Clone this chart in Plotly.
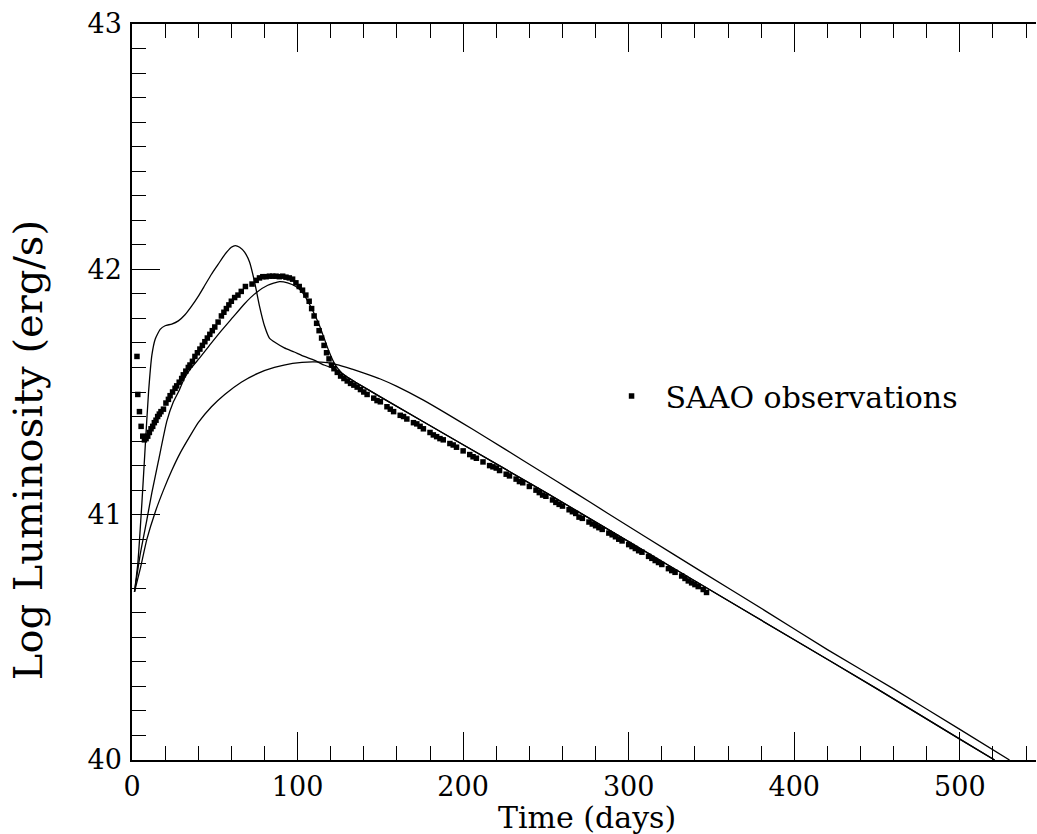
import plotly.graph_objects as go

# ---- data ----
# SAAO observations (days, log L)
obs_t = [3.0, 3.5, 4.5, 5.5, 6.5, 7.5, 8.5, 9.5, 10.5, 11.5, 12.5, 13.5, 14.5, 15.5, 16.5,
         17.5, 19, 20.5, 22, 23, 24.5, 26, 27, 28.5, 30, 31, 32.5, 34, 35, 36.5, 38, 39.5,
         41, 42.5, 44, 45.5, 47, 48.5, 50, 52, 54, 55.5, 57, 58.5, 60, 62, 64, 66, 68.5,
         72.5, 75, 77, 79, 81, 83, 85, 87, 89, 91, 93, 95, 97, 99, 101, 103, 105, 107,
         108.5, 110, 111.5, 113, 114.5, 116, 117.5, 119, 120.5, 122, 124, 126, 128, 130,
         132, 134, 136, 138, 140, 142, 146, 148, 150, 154, 156, 158, 162, 164, 166, 170,
         172, 174, 176, 180, 182, 184, 186, 188, 192, 194, 196, 200, 204, 206, 208, 212,
         216, 218, 220, 222, 226, 228, 232, 234, 236, 240, 244, 246, 248, 250, 254, 256,
         258, 260, 264, 266, 268, 270, 272, 276, 278, 280, 282, 284, 288, 290, 292, 294,
         296, 300, 302, 304, 306, 308, 312, 314, 316, 318, 320, 324, 326, 328, 332, 334,
         336, 338, 340, 342, 345, 347]
obs_L = [41.645, 41.49, 41.42, 41.36, 41.32, 41.305, 41.31, 41.32, 41.335, 41.35, 41.36,
         41.375, 41.385, 41.40, 41.41, 41.42, 41.43, 41.455, 41.47, 41.485, 41.50, 41.515,
         41.525, 41.54, 41.555, 41.57, 41.585, 41.60, 41.61, 41.625, 41.645, 41.66, 41.675,
         41.69, 41.705, 41.72, 41.735, 41.75, 41.765, 41.785, 41.81, 41.825, 41.84, 41.855,
         41.87, 41.885, 41.895, 41.91, 41.93, 41.94, 41.955, 41.965, 41.97, 41.97, 41.972,
         41.972, 41.972, 41.97, 41.972, 41.968, 41.965, 41.96, 41.945, 41.93, 41.915,
         41.895, 41.87, 41.84, 41.81, 41.78, 41.75, 41.72, 41.69, 41.66, 41.635, 41.61,
         41.595, 41.58, 41.565, 41.555, 41.545, 41.535, 41.528, 41.52, 41.51, 41.50, 41.49,
         41.475, 41.465, 41.46, 41.44, 41.43, 41.42, 41.405, 41.40, 41.39, 41.375, 41.37,
         41.36, 41.35, 41.335, 41.325, 41.318, 41.31, 41.305, 41.29, 41.284, 41.275, 41.26,
         41.245, 41.236, 41.23, 41.215, 41.20, 41.195, 41.19, 41.18, 41.165, 41.158, 41.145,
         41.135, 41.13, 41.115, 41.10, 41.09, 41.08, 41.075, 41.06, 41.05, 41.042, 41.035,
         41.02, 41.012, 41.005, 40.99, 40.985, 40.97, 40.962, 40.955, 40.947, 40.94, 40.925,
         40.918, 40.91, 40.90, 40.893, 40.878, 40.87, 40.862, 40.853, 40.847, 40.83, 40.822,
         40.813, 40.805, 40.797, 40.78, 40.772, 40.765, 40.75, 40.74, 40.73, 40.722, 40.715,
         40.707, 40.695, 40.683]

# Model curve A (sharp early peak)
modelA_t = [1.5, 3.5, 6, 8, 10, 12, 14, 17, 20, 24, 28, 32, 36, 40, 44, 48, 52, 56, 60,
            62.4, 65, 68, 71, 74, 77, 80, 83, 87, 92, 98, 104, 110, 116, 122, 128, 135,
            150, 200, 250, 300, 350, 400, 450, 500, 521]
modelA_L = [40.685, 40.80, 41.05, 41.28, 41.50, 41.65, 41.715, 41.755, 41.77, 41.777,
            41.79, 41.815, 41.85, 41.89, 41.935, 41.98, 42.02, 42.06, 42.09, 42.097, 42.09,
            42.07, 42.03, 41.95, 41.85, 41.77, 41.72, 41.70, 41.68, 41.663, 41.645, 41.63,
            41.61, 41.595, 41.57, 41.54, 41.48, 41.285, 41.09, 40.89, 40.69, 40.49, 40.29,
            40.085, 40.0]

# Model curve B (fits the observations)
modelB_t = [1.5, 5, 9, 12, 16, 21, 25, 28, 32, 36, 41, 48, 54, 61, 68, 75, 82, 89, 94,
            99, 103, 107, 110, 113, 116, 119, 122, 125, 129, 135,
            150, 200, 250, 300, 350, 400, 450, 500, 521]
modelB_L = [40.685, 40.84, 40.98, 41.09, 41.22, 41.38, 41.46, 41.50, 41.56, 41.60, 41.64,
            41.70, 41.75, 41.805, 41.86, 41.905, 41.935, 41.95, 41.945, 41.93, 41.905,
            41.86, 41.82, 41.775, 41.72, 41.665, 41.62, 41.59, 41.565, 41.54,
            41.48, 41.285, 41.09, 40.89, 40.69, 40.49, 40.29, 40.085, 40.0]

# Model curve C (broad late peak)
modelC_t = [1.5, 5, 9, 14, 19, 24, 29, 35, 40, 48, 56, 66, 76, 86, 97, 109, 118, 125,
            133, 141, 150, 160, 176, 190, 206, 225, 247, 267, 287, 310, 343, 382, 420,
            460, 500, 530]
modelC_L = [40.685, 40.78, 40.90, 41.01, 41.10, 41.18, 41.25, 41.32, 41.375, 41.44, 41.49,
            41.54, 41.576, 41.60, 41.617, 41.623, 41.62, 41.61, 41.593, 41.575, 41.553,
            41.523, 41.467, 41.412, 41.347, 41.268, 41.176, 41.092, 41.007, 40.91, 40.772,
            40.61, 40.45, 40.29, 40.125, 40.0]

x_ticks = [0, 100, 200, 300, 400, 500]
y_ticks = [40, 41, 42, 43]

FONT = "DejaVu Serif"
line_style = dict(color="black", width=1.3, shape="spline", smoothing=0.5)

fig = go.Figure()
for t, L in [(modelA_t, modelA_L), (modelB_t, modelB_L), (modelC_t, modelC_L)]:
    fig.add_trace(go.Scatter(x=t, y=L, mode="lines", line=line_style,
                             showlegend=False, hoverinfo="skip"))
fig.add_trace(go.Scatter(x=obs_t, y=obs_L, mode="markers", name="SAAO observations",
                         marker=dict(symbol="square", size=5.5, color="black",
                                     line=dict(width=0))))

fig.update_layout(
    width=1037, height=834,
    margin=dict(l=132, r=1, t=24, b=74, autoexpand=False),
    paper_bgcolor="white", plot_bgcolor="white",
    font=dict(family=FONT, color="black", size=27),
    showlegend=True,
    legend=dict(x=0.515, y=0.4946, xanchor="left", yanchor="middle",
                bgcolor="rgba(0,0,0,0)", borderwidth=0, itemwidth=58,
                font=dict(family=FONT, size=30, color="black")),
    xaxis=dict(range=[0, 546], tickvals=x_ticks, ticks="inside", ticklen=28,
               tickwidth=1.2, tickcolor="black", showline=True, linecolor="black",
               linewidth=1.5, mirror="ticks", showgrid=False, zeroline=False,
               ticklabelstandoff=2,
               tickfont=dict(family=FONT, size=27),
               minor=dict(dtick=20, ticks="inside", ticklen=14, tickwidth=1.2,
                          tickcolor="black", showgrid=False)),
    yaxis=dict(range=[40, 43], tickvals=y_ticks, ticks="inside", ticklen=28,
               tickwidth=1.2, tickcolor="black", showline=True, linecolor="black",
               linewidth=1.5, mirror=False, showgrid=False, zeroline=False,
               ticklabelstandoff=3,
               tickfont=dict(family=FONT, size=27),
               minor=dict(dtick=0.1, ticks="inside", ticklen=14, tickwidth=1.2,
                          tickcolor="black", showgrid=False)),
    yaxis2=dict(range=[40, 43], overlaying="y", side="right", anchor="x",
                tickvals=y_ticks, ticks="inside", ticklen=20, tickwidth=1.2,
                tickcolor="black", showticklabels=False, showline=True,
                linecolor="black", linewidth=1.5, showgrid=False, zeroline=False,
                minor=dict(dtick=0.1, ticks="inside", ticklen=5, tickwidth=1.2,
                           tickcolor="black", showgrid=False)),
    annotations=[
        dict(text="Time (days)", xref="paper", yref="paper", x=0.5028, y=-0.0775,
             xanchor="center", yanchor="middle", showarrow=False,
             font=dict(family=FONT, size=30, color="black")),
        dict(text="Log Luminosity (erg/s)", xref="paper", yref="paper",
             x=-0.115, y=0.421, xanchor="center", yanchor="middle", textangle=-90,
             showarrow=False, font=dict(family=FONT, size=40, color="black")),
    ],
)

# remove the browser's default 8px body margin so the figure fills the window
fig.write_html("out.html", config={"displayModeBar": False},
               post_script="document.body.style.margin='0';")
